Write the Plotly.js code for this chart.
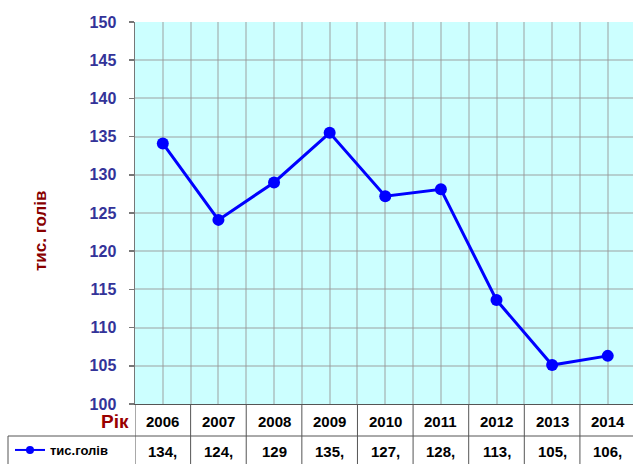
<!DOCTYPE html>
<html>
<head>
<meta charset="utf-8">
<script src="https://cdn.plot.ly/plotly-3.0.1.min.js"></script>
<style>html,body{margin:0;padding:0;background:#fff;}#chart{width:633px;height:464px;}</style>
</head>
<body>
<div id="chart"></div>
<script>
const years = ['2006','2007','2008','2009','2010','2011','2012','2013','2014'];
const values = [134.1, 124.1, 129.0, 135.5, 127.2, 128.1, 113.6, 105.1, 106.3];
const valueLabels = ['134,','124,','129','135,','127,','128,','113,','105,','106,'];
const seriesName = 'тис.голів';
const yTitle = 'тис. голів';
const xTitle = 'Рік';

const W = 633, H = 464, ML = 135, MT = 22, MB = 60;
const idx = years.map((_, i) => i);
const font = 'Arial, "Liberation Sans", sans-serif';
const lineCol = '#555555';

const shapes = [];
for (let i = 0; i <= years.length; i++) {
  shapes.push({type:'line', xref:'x', x0:i-0.5, x1:i-0.5, yref:'paper', ysizemode:'pixel', yanchor:0, y0:0, y1:-MB-2,
    line:{color:lineCol, width:1}});
}
shapes.push({type:'line', xref:'paper', xsizemode:'pixel', xanchor:0, x0:8-ML, x1:W-ML+5,
  yref:'paper', ysizemode:'pixel', yanchor:0, y0:-32, y1:-32, line:{color:lineCol, width:1}});
shapes.push({type:'line', xref:'paper', xsizemode:'pixel', xanchor:0, x0:8-ML, x1:8-ML,
  yref:'paper', ysizemode:'pixel', yanchor:0, y0:-32, y1:-MB-2, line:{color:lineCol, width:1}});

const annotations = [];
years.forEach((y, i) => {
  annotations.push({xref:'x', x:i, yref:'paper', y:0, yshift:-17, yanchor:'middle', xanchor:'center',
    text:y, showarrow:false, font:{family:font, size:15, color:'#000', weight:'bold'}});
  annotations.push({xref:'x', x:i, yref:'paper', y:0, yshift:-47, yanchor:'middle', xanchor:'center',
    text:valueLabels[i], showarrow:false, font:{family:font, size:15, color:'#000', weight:'bold'}});
});
annotations.push({xref:'paper', x:0, xshift:-4, xanchor:'right', yref:'paper', y:0, yshift:-17, yanchor:'middle',
  text:xTitle, showarrow:false, font:{family:font, size:19, color:'#990000', weight:'bold'}});
annotations.push({xref:'paper', x:0, xshift:40-ML, xanchor:'center', yref:'paper', y:0.5, yshift:-18, yanchor:'middle',
  text:yTitle, textangle:-90, showarrow:false, font:{family:font, size:17, color:'#880000', weight:'bold'}});

const trace = {
  x: idx, y: values, type:'scatter', mode:'lines+markers', name: seriesName, showlegend:false,
  line:{color:'#0000FF', width:3}, marker:{color:'#0000FF', size:12},
  cliponaxis:false
};
const legendKey = {
  x:[null], y:[null], type:'scatter', mode:'lines+markers', name: seriesName, showlegend:true,
  line:{color:'#0000FF', width:2}, marker:{color:'#0000FF', size:8}
};

const layout = {
  width:W, height:H,
  margin:{l:ML, r:0, t:MT, b:MB, autoexpand:false},
  paper_bgcolor:'#ffffff', plot_bgcolor:'#CCFFFF',
  showlegend:true,
  legend:{x:(10-ML)/(W-ML), xanchor:'left', y:-(450-404)/(H-MT-MB), yanchor:'middle',
    bgcolor:'rgba(0,0,0,0)', font:{family:font, size:13, color:'#000', weight:'bold'}, itemwidth:30},
  xaxis:{range:[-0.5, 8 + (W-607.7)/55.7], tickmode:'linear', tick0:-0.5, dtick:0.5,
    showticklabels:false, ticks:'', showgrid:true, gridcolor:'rgba(150,150,150,0.45)', gridwidth:2,
    showline:true, linecolor:lineCol, linewidth:1, zeroline:false, fixedrange:true},
  yaxis:{range:[100,150], tickmode:'linear', tick0:100, dtick:5, ticks:'outside', ticklen:5,
    tickcolor:'#777', tickwidth:1.5, showline:true, linecolor:'#777', linewidth:1.5,
    showgrid:true, gridcolor:'rgba(150,150,150,0.45)', gridwidth:2, zeroline:false,
    ticklabelstandoff:9,
    tickfont:{family:font, size:16, color:'#333399', weight:'bold'}},
  shapes: shapes,
  annotations: annotations
};

Plotly.newPlot('chart', [trace, legendKey], layout, {displayModeBar:false, staticPlot:true});
</script>
</body>
</html>
